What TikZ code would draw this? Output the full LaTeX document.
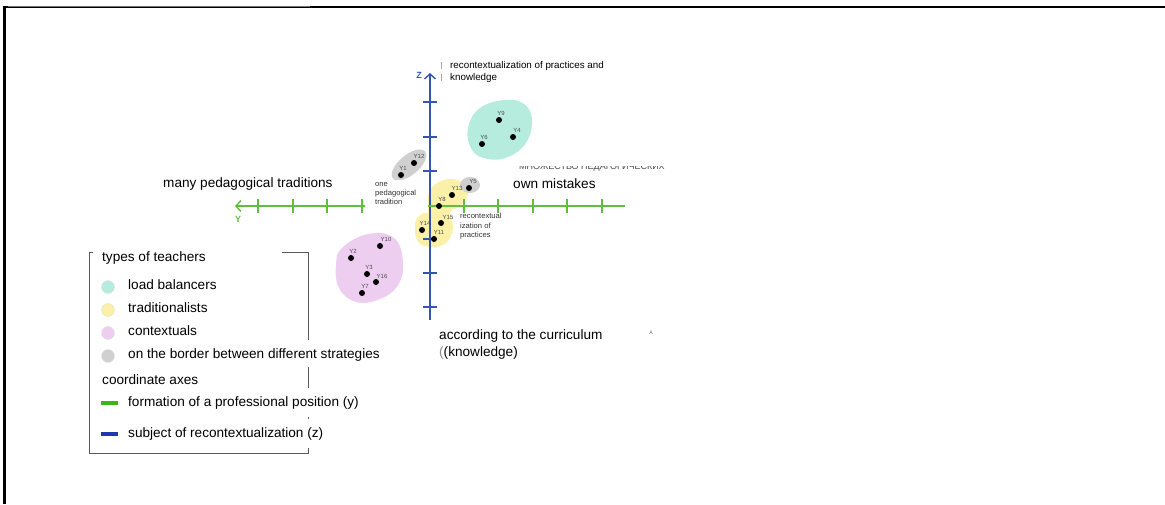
\documentclass[tikz,border=0pt]{standalone}
\usepackage{fontspec}
\setmainfont{Liberation Sans}
\usetikzlibrary{arrows.meta}

\definecolor{axisblue}{RGB}{55,85,175}
\definecolor{axisgreen}{RGB}{95,190,60}
\definecolor{keyblue}{RGB}{30,55,180}
\definecolor{keygreen}{RGB}{60,180,30}
\definecolor{tealfill}{RGB}{182,236,222}
\definecolor{yellowfill}{RGB}{251,240,168}
\definecolor{pinkfill}{RGB}{238,206,240}
\definecolor{grayfill}{RGB}{208,208,208}
\definecolor{boxgray}{RGB}{90,90,90}

\tikzset{
  pt/.style={circle, fill=black, inner sep=0pt, minimum size=6pt},
  ptlabel/.style={font=\fontsize{6}{7}\selectfont, text=black!70, inner sep=0pt},
  big/.style={font=\fontsize{13.6}{17}\selectfont, inner sep=0pt, anchor=west, align=left},
  small/.style={font=\fontsize{7.6}{9.3}\selectfont, text=black!80, inner sep=0pt, anchor=north west, align=left},
  ticks/.style={line width=1.3pt},
  legdot/.style={circle, inner sep=0pt, minimum size=13pt, draw=black!12},
  axlabel/.style={font=\bfseries\fontsize{9}{10}\selectfont, inner sep=0pt},
}

\begin{document}
\begin{tikzpicture}[x=1pt, y=-1pt]
\useasboundingbox (0,0) rectangle (1165,504);

% page frame (left and top edges)
\draw[line width=2.3pt] (4.5,504) -- (4.5,6.7) -- (1165,6.7);
\draw[black!55, line width=1.2pt] (8,6.7) -- (310,6.7);

% clusters of teachers
\fill[tealfill] plot[smooth cycle, tension=0.7] coordinates
  {(468,128) (480,108) (505,100) (524,104) (532,120) (526,143) (508,157) (488,159) (472,150)};
\fill[yellowfill] plot[smooth cycle, tension=0.7] coordinates
  {(430,190) (444,180) (460,181) (468,193) (460,206) (450,212) (453,228) (446,243) (430,247) (417,240) (416,220) (426,210)};
\fill[pinkfill] plot[smooth cycle, tension=0.7] coordinates
  {(342,248) (368,234) (394,238) (403,262) (398,285) (380,299) (356,302) (339,288) (336,265)};
\fill[grayfill, rotate around={40:(409,165)}] (409,165) ellipse (21 and 10);
\fill[grayfill] (470,185) ellipse (10 and 8);

% axes
\draw[axisblue, line width=1.4pt, -{Straight Barb[length=5pt, width=11pt]}] (430,320) -- (430,73);
\foreach \t in {102,137,171,239,273,307}
  \draw[axisblue, ticks] (423,\t) -- (437,\t);
\draw[axisgreen, line width=1.4pt, -{Straight Barb[length=5pt, width=11pt]}] (625,206) -- (235,206);
\foreach \t in {258,293,327,362,464,498,533,567,602}
  \draw[axisgreen, ticks] (\t,199) -- (\t,213);
\node[axlabel, text=axisblue] (zl) at (419,75) {Z};
\node[axlabel, text=axisgreen] (yl) at (238,219) {Y};

% text box over the axis near the origin
\fill[white] (365,180) rectangle (428,213);

% teachers
\foreach \n/\x/\y/\lx/\ly in {
   9/499/120/501/113, 4/513/137/517/130, 6/482/144/484/137,
   12/414/163/419/156, 1/401/175/403/168, 5/469/188/473/181,
   13/452/195/457/188, 8/439/206/442/199, 15/441/223/448/217,
   14/422/230/425/223, 11/434/239/439/232,
   10/380/246/386/239, 2/351/258/353/251, 3/367/274/369/267,
   16/376/282/382/276, 7/362/293/365/286}{
  \node[pt] (t\n) at (\x,\y) {};
  \node[ptlabel] (lab\n) at (\lx,\ly) {Y\n};
}

% axis captions
\draw[black!35, line width=0.6pt] (441,62) -- (441,69) (441,74) -- (441,81);
\node[font=\fontsize{9.8}{12}\selectfont, inner sep=0pt, anchor=west, align=left] (ztop) at (450,72)
  {recontextualization of practices and\\knowledge};
\node[big] (ownm) at (513,184) {own mistakes};
\node[big] (manyp) at (163,184) {many pedagogical traditions};
\node[small] (onep) at (375,182) {one\\pedagogical\\tradition};
\node[small] (recp) at (460,213) {recontextual\\ization of\\practices};
\node[big] (curr) at (439,344) {according to the curriculum\\{\color{black!45}(}(knowledge)};
\node[font=\fontsize{5}{6}\selectfont, text=black!60, inner sep=0pt] (mark) at (651,333) {A};
\begin{scope}
  \clip (500,166.3) rectangle (680,175);
  \node[font=\fontsize{9}{10}\selectfont, text=black!70, inner sep=0pt, anchor=west] (rus) at (519,167)
    {МНОЖЕСТВО ПЕДАГОГИЧЕСКИХ};
\end{scope}

% legend frame
\draw[boxgray, line width=0.8pt] (93,252) -- (89.5,252) -- (89.5,453.5) -- (308,453.5) -- (308,448);
\draw[boxgray, line width=0.8pt] (282,252) -- (308,252) -- (308,340);
\draw[boxgray, line width=0.8pt] (308,367) -- (308,388);
\draw[boxgray, line width=0.6pt] (308,417) -- (308,419);

% legend entries
\node[big] (lt) at (102,258) {types of teachers};
\node[legdot, fill=tealfill] (c1) at (108,287) {};
\node[big] (l1) at (128,285) {load balancers};
\node[legdot, fill=yellowfill] (c2) at (108,310) {};
\node[big] (l2) at (128,308) {traditionalists};
\node[legdot, fill=pinkfill] (c3) at (108,333) {};
\node[big] (l3) at (128,331) {contextuals};
\node[legdot, fill=grayfill] (c4) at (108,356) {};
\node[big] (l4) at (128,355) {on the border between different strategies};
\node[big] (la) at (102,380) {coordinate axes};
\draw[keygreen, line width=4pt] (101,403) -- (118,403);
\node[big] (l5) at (128,403) {formation of a professional position (y)};
\draw[keyblue, line width=4pt] (101,434) -- (118,434);
\node[big] (l6) at (128,434) {subject of recontextualization (z)};
\end{tikzpicture}
\end{document}
